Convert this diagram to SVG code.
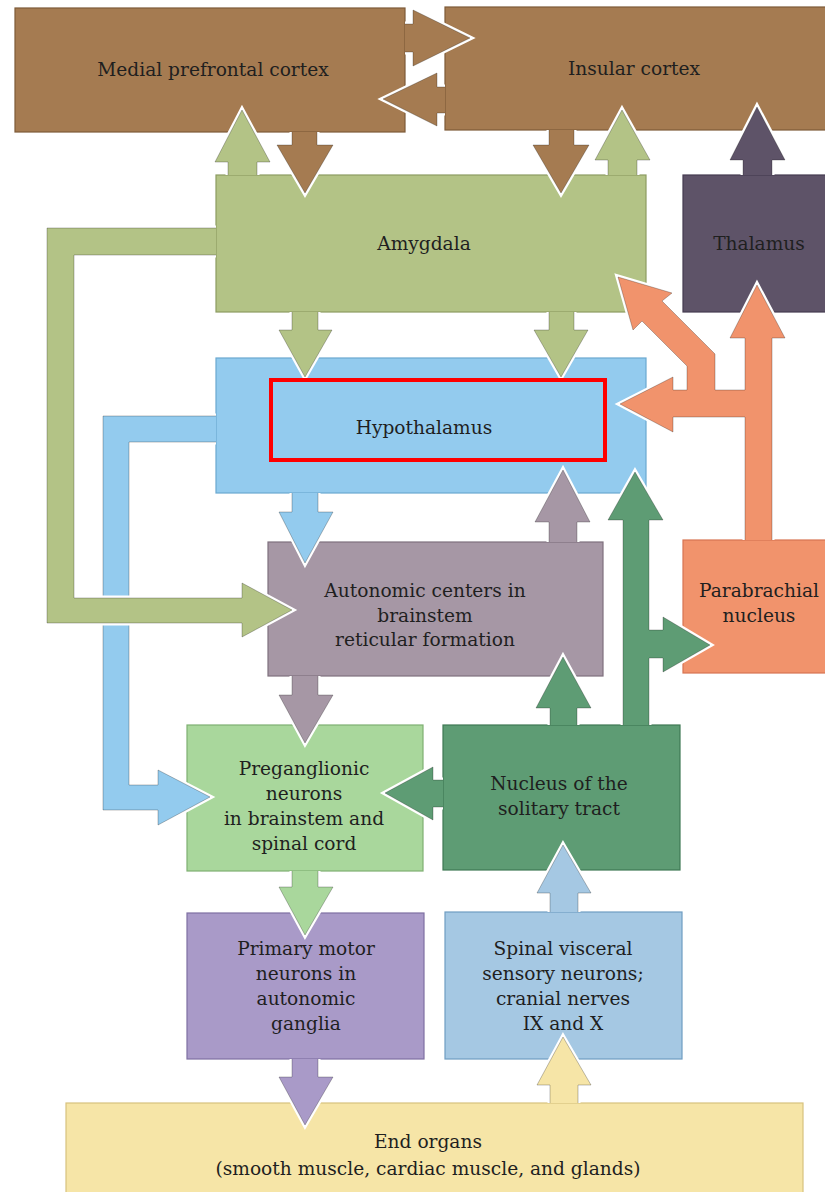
<svg xmlns="http://www.w3.org/2000/svg" width="825" height="1192" viewBox="0 0 825 1192">
  <style>
    .box { stroke-width: 1.2; }
    .lbl { font-family: "DejaVu Serif", "Liberation Serif", serif; font-size: 18.6px; fill: #1f1f1f; text-anchor: middle; }
    .arr { stroke: #ffffff; stroke-width: 5; stroke-linejoin: miter; paint-order: stroke; }
    .edge { fill: none; stroke: #000000; stroke-opacity: 0.25; stroke-width: 1; stroke-linejoin: miter; }
    .brown { fill: #a57b51; }
    .amyg { fill: #b3c386; }
    .thal { fill: #5e5368; }
    .hypo { fill: #93cbee; }
    .auto { fill: #a697a5; }
    .para { fill: #f1936c; }
    .preg { fill: #a9d79c; }
    .nts { fill: #5e9c74; }
    .prim { fill: #a99ac8; }
    .spin { fill: #a5c8e3; }
    .endo { fill: #f6e5a7; }
  </style>

  <defs>
    <!-- arrow outlines are open paths: the base joined to the source box is filled but never outlined -->
    <path id="p-mpfc-ins" d="M405,24 L413,24 L413,10 L470,38 L413,66 L413,52 L405,52"/>
    <path id="p-ins-mpfc" d="M445,87 L437,87 L437,73 L383,99 L437,126 L437,113 L445,113"/>
    <path id="p-mpfc-amy" d="M292,132 L292,145 L277,145 L305,193 L333,145 L317,145 L317,132"/>
    <path id="p-ins-amy" d="M549,130 L549,145 L533,145 L561,193 L589,145 L574,145 L574,130"/>
    <path id="p-amy-mpfc" d="M228,175 L228,162 L215,162 L242,110 L270,162 L257,162 L257,175"/>
    <path id="p-amy-ins" d="M608,175 L608,160 L595,160 L622,110 L650,160 L637,160 L637,175"/>
    <path id="p-thal-ins" d="M743,175 L743,160 L730,160 L757,107 L785,160 L772,160 L772,175"/>
    <path id="p-amy-hyp1" d="M292,312 L292,330 L279,330 L305,377 L332,330 L318,330 L318,312"/>
    <path id="p-amy-hyp2" d="M549,312 L549,330 L534,330 L561,377 L588,330 L574,330 L574,312"/>
    <path id="p-hyp-preg" d="M216,416 L103,416 L103,810 L158,810 L158,825 L210,797 L158,770 L158,785 L129,785 L129,442 L216,442"/>
    <path id="p-amy-auto" d="M216,228 L47,228 L47,623 L242,623 L242,637 L292,610 L242,583 L242,598 L74,598 L74,255 L216,255"/>
    <path id="p-hyp-auto" d="M292,493 L292,512 L279,512 L305,563 L333,512 L318,512 L318,493"/>
    <path id="p-auto-hyp" d="M549,542 L549,522 L535,522 L563,470 L590,522 L577,522 L577,542"/>
    <path id="p-auto-preg" d="M292,676 L292,695 L279,695 L305,743 L333,695 L318,695 L318,676"/>
    <path id="p-para" d="M745,540 L745,417 L673,417 L673,432 L620,404 L673,377 L673,390 L687,390 L687,366 L642,321 L633,330 L618,277 L672,293 L662,301 L715,354 L715,390 L745,390 L745,338 L730,338 L757,285 L785,338 L772,338 L772,540"/>
    <path id="p-nts-auto" d="M550,725 L550,708 L536,708 L563,657 L591,708 L577,708 L577,725"/>
    <path id="p-nts-hyp" d="M623,725 L623,520 L608,520 L635,472 L663,520 L649,520 L649,630 L663,630 L663,617 L710,645 L663,672 L663,658 L649,658 L649,725"/>
    <path id="p-nts-preg" d="M443,780 L433,780 L433,767 L385,793 L433,820 L433,807 L443,807"/>
    <path id="p-preg-prim" d="M292,871 L292,887 L279,887 L305,935 L333,887 L318,887 L318,871"/>
    <path id="p-spin-nts" d="M550,912 L550,893 L537,893 L563,845 L591,893 L578,893 L578,912"/>
    <path id="p-prim-end" d="M292,1059 L292,1077 L279,1077 L305,1125 L333,1077 L318,1077 L318,1059"/>
    <path id="p-end-spin" d="M550,1103 L550,1085 L537,1085 L563,1037 L591,1085 L578,1085 L578,1103"/>
  </defs>

  <rect width="825" height="1192" fill="#ffffff"/>

  <!-- boxes -->
  <g id="medial-prefrontal-cortex">
    <rect class="box brown" x="15" y="8" width="390" height="124" stroke="#7d5a38"/>
    <text class="lbl" x="213" y="76">Medial prefrontal cortex</text>
  </g>
  <g id="insular-cortex">
    <rect class="box brown" x="445" y="7" width="390" height="123" stroke="#7d5a38"/>
    <text class="lbl" x="634" y="75">Insular cortex</text>
  </g>
  <g id="amygdala">
    <rect class="box amyg" x="216" y="175" width="430" height="137" stroke="#8c9c62"/>
    <text class="lbl" x="424" y="250">Amygdala</text>
  </g>
  <g id="thalamus">
    <rect class="box thal" x="683" y="175" width="150" height="137" stroke="#453b50"/>
    <text class="lbl" x="759" y="250">Thalamus</text>
  </g>
  <g id="hypothalamus">
    <rect class="box hypo" x="216" y="358" width="430" height="135" stroke="#6aa8d0"/>
    <text class="lbl" x="424" y="434">Hypothalamus</text>
  </g>
  <g id="autonomic-centers">
    <rect class="box auto" x="268" y="542" width="335" height="134" stroke="#7f717e"/>
    <text class="lbl" x="425" y="597">Autonomic centers in</text>
    <text class="lbl" x="425" y="622">brainstem</text>
    <text class="lbl" x="425" y="646">reticular formation</text>
  </g>
  <g id="parabrachial-nucleus">
    <rect class="box para" x="683" y="540" width="150" height="133" stroke="#d77452"/>
    <text class="lbl" x="759" y="597">Parabrachial</text>
    <text class="lbl" x="759" y="622">nucleus</text>
  </g>
  <g id="preganglionic-neurons">
    <rect class="box preg" x="187" y="725" width="236" height="146" stroke="#7fb072"/>
    <text class="lbl" x="304" y="775">Preganglionic</text>
    <text class="lbl" x="304" y="800">neurons</text>
    <text class="lbl" x="304" y="825">in brainstem and</text>
    <text class="lbl" x="304" y="850">spinal cord</text>
  </g>
  <g id="nucleus-solitary-tract">
    <rect class="box nts" x="443" y="725" width="237" height="145" stroke="#3f7854"/>
    <text class="lbl" x="559" y="790">Nucleus of the</text>
    <text class="lbl" x="559" y="815">solitary tract</text>
  </g>
  <g id="primary-motor-neurons">
    <rect class="box prim" x="187" y="913" width="237" height="146" stroke="#7f70a2"/>
    <text class="lbl" x="306" y="955">Primary motor</text>
    <text class="lbl" x="306" y="980">neurons in</text>
    <text class="lbl" x="306" y="1005">autonomic</text>
    <text class="lbl" x="306" y="1030">ganglia</text>
  </g>
  <g id="spinal-visceral-sensory">
    <rect class="box spin" x="445" y="912" width="237" height="147" stroke="#6f9dc2"/>
    <text class="lbl" x="563" y="955">Spinal visceral</text>
    <text class="lbl" x="563" y="980">sensory neurons;</text>
    <text class="lbl" x="563" y="1005">cranial nerves</text>
    <text class="lbl" x="563" y="1030">IX and X</text>
  </g>
  <g id="end-organs">
    <rect class="box endo" x="66" y="1103" width="737" height="100" stroke="#d8c27e"/>
    <text class="lbl" x="428" y="1148">End organs</text>
    <text class="lbl" x="428" y="1175">(smooth muscle, cardiac muscle, and glands)</text>
  </g>

  <!-- connectors: each drawn as a filled arrow with a white halo, then a thin dark edge -->
  <g id="connectors">
    <use href="#p-mpfc-ins" class="arr brown"/><use href="#p-mpfc-ins" class="edge"/>
    <use href="#p-ins-mpfc" class="arr brown"/><use href="#p-ins-mpfc" class="edge"/>
    <use href="#p-mpfc-amy" class="arr brown"/><use href="#p-mpfc-amy" class="edge"/>
    <use href="#p-ins-amy" class="arr brown"/><use href="#p-ins-amy" class="edge"/>
    <use href="#p-amy-mpfc" class="arr amyg"/><use href="#p-amy-mpfc" class="edge"/>
    <use href="#p-amy-ins" class="arr amyg"/><use href="#p-amy-ins" class="edge"/>
    <use href="#p-thal-ins" class="arr thal"/><use href="#p-thal-ins" class="edge"/>
    <use href="#p-amy-hyp1" class="arr amyg"/><use href="#p-amy-hyp1" class="edge"/>
    <use href="#p-amy-hyp2" class="arr amyg"/><use href="#p-amy-hyp2" class="edge"/>
    <use href="#p-hyp-preg" class="arr hypo"/><use href="#p-hyp-preg" class="edge"/>
    <use href="#p-amy-auto" class="arr amyg"/><use href="#p-amy-auto" class="edge"/>
    <use href="#p-hyp-auto" class="arr hypo"/><use href="#p-hyp-auto" class="edge"/>
    <use href="#p-auto-hyp" class="arr auto"/><use href="#p-auto-hyp" class="edge"/>
    <use href="#p-auto-preg" class="arr auto"/><use href="#p-auto-preg" class="edge"/>
    <use href="#p-para" class="arr para"/><use href="#p-para" class="edge"/>
    <use href="#p-nts-auto" class="arr nts"/><use href="#p-nts-auto" class="edge"/>
    <use href="#p-nts-hyp" class="arr nts"/><use href="#p-nts-hyp" class="edge"/>
    <use href="#p-nts-preg" class="arr nts"/><use href="#p-nts-preg" class="edge"/>
    <use href="#p-preg-prim" class="arr preg"/><use href="#p-preg-prim" class="edge"/>
    <use href="#p-spin-nts" class="arr spin"/><use href="#p-spin-nts" class="edge"/>
    <use href="#p-prim-end" class="arr prim"/><use href="#p-prim-end" class="edge"/>
    <use href="#p-end-spin" class="arr endo"/><use href="#p-end-spin" class="edge"/>
  </g>

  <!-- highlight frame -->
  <rect id="highlight" x="271" y="380" width="334" height="80" fill="none" stroke="#ff0000" stroke-width="4"/>
</svg>
